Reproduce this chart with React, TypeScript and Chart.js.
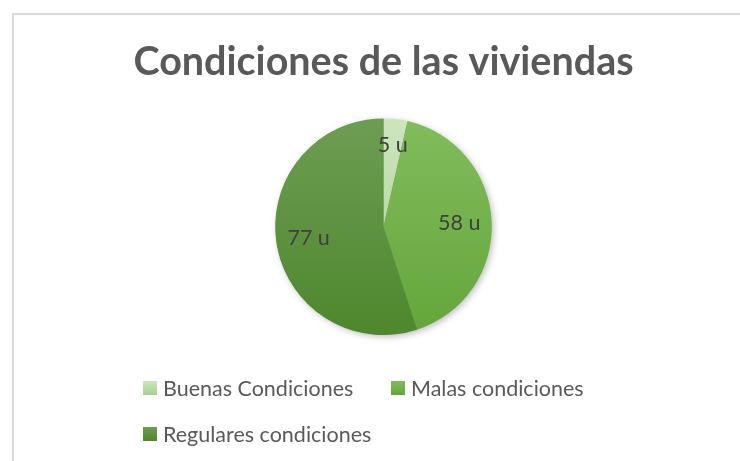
import React, { useEffect, useRef } from "react";
import { Chart, registerables } from "chart.js";
Chart.register(...registerables);

const TITLE = "Condiciones de las viviendas";
const categories = ["Buenas Condiciones", "Malas condiciones", "Regulares condiciones"];
const values = [5, 58, 77];
const unitSuffix = " u";

const topColors = ["#cde5bf", "#82bc5c", "#6d9d53"];
const bottomColors = ["#a8cf8e", "#64a63b", "#4e872d"];

const shadowPlugin = {
  id: "pieShadow",
  beforeDatasetsDraw(chart: any) {
    const arc = chart.getDatasetMeta(0).data[0];
    if (!arc) return;
    const { x, y, outerRadius } = arc.getProps(["x", "y", "outerRadius"], true);
    const ctx = chart.ctx;
    ctx.save();
    ctx.shadowColor = "rgba(0,0,0,0.28)";
    ctx.shadowBlur = 7;
    ctx.shadowOffsetX = 2;
    ctx.shadowOffsetY = 2;
    ctx.beginPath();
    ctx.arc(x, y, outerRadius - 0.5, 0, Math.PI * 2);
    ctx.fillStyle = "#6a9a50";
    ctx.fill();
    ctx.restore();
  },
};

const labelPlugin = {
  id: "sliceLabels",
  afterDatasetsDraw(chart: any) {
    const ctx = chart.ctx;
    const meta = chart.getDatasetMeta(0);
    const data = chart.data.datasets[0].data as number[];
    ctx.save();
    ctx.font = "21.5px Lato";
    ctx.fillStyle = "#404040";
    ctx.textAlign = "center";
    ctx.textBaseline = "middle";
    meta.data.forEach((arc: any, i: number) => {
      const { x, y, startAngle, endAngle, outerRadius } = arc.getProps(
        ["x", "y", "startAngle", "endAngle", "outerRadius"],
        true
      );
      const mid = (startAngle + endAngle) / 2;
      const r = outerRadius * (data[i] / values.reduce((a, b) => a + b, 0) < 0.1 ? 0.76 : 0.7);
      ctx.fillText(`${data[i]}${unitSuffix}`, x + Math.cos(mid) * r, y + Math.sin(mid) * r);
    });
    ctx.restore();
  },
};

const legendPlugin = {
  id: "excelLegend",
  afterDraw(chart: any) {
    const ctx = chart.ctx;
    const labels = chart.data.labels as string[];
    const slots = [
      [143, 381],
      [391, 381],
      [143, 427],
    ];
    ctx.save();
    ctx.font = "21.5px Lato";
    ctx.textBaseline = "middle";
    ctx.textAlign = "left";
    labels.forEach((lab, i) => {
      const [bx, by] = slots[i];
      const g = ctx.createLinearGradient(0, by, 0, by + 14);
      g.addColorStop(0, topColors[i]);
      g.addColorStop(1, bottomColors[i]);
      ctx.fillStyle = g;
      ctx.fillRect(bx, by, 14, 14);
      ctx.fillStyle = "#595959";
      ctx.fillText(lab, bx + 20, by + 8);
    });
    ctx.restore();
  },
};

export default function App() {
  const ref = useRef<HTMLCanvasElement>(null);
  useEffect(() => {
    if (!ref.current) return;
    const chart = new Chart(ref.current, {
      type: "pie",
      data: {
        labels: categories,
        datasets: [
          {
            data: values,
            borderWidth: 0,
            backgroundColor: (c: any) => {
              const i = c.dataIndex;
              const area = c.chart.chartArea;
              if (!area) return bottomColors[i];
              const g = c.chart.ctx.createLinearGradient(0, area.top, 0, area.bottom);
              g.addColorStop(0, topColors[i]);
              g.addColorStop(1, bottomColors[i]);
              return g;
            },
          },
        ],
      },
      options: {
        responsive: false,
        animation: false,
        devicePixelRatio: 1,
        layout: { padding: { left: 27, right: 0, top: 0, bottom: 126 } },
        plugins: {
          legend: { display: false },
          tooltip: { enabled: false },
          title: {
            display: true,
            text: TITLE,
            color: "#595959",
            font: { family: "Lato", size: 39.5, weight: "bold" },
            padding: { top: 39, bottom: 32 },
          },
        },
      },
      plugins: [shadowPlugin, labelPlugin, legendPlugin],
    } as any);
    return () => chart.destroy();
  }, []);

  return (
    <div
      style={{
        position: "fixed",
        left: 0,
        top: 0,
        width: 740,
        height: 461,
        overflow: "hidden",
        background: "#fff",
      }}
    >
      <div
        style={{
          position: "absolute",
          left: 12,
          top: 13,
          width: 800,
          height: 500,
          borderLeft: "2px solid #d9d9d9",
          borderTop: "2px solid #d9d9d9",
        }}
      />
      <canvas
        ref={ref}
        width={740}
        height={461}
        style={{ position: "absolute", left: 0, top: 0, width: 740, height: 461 }}
      />
    </div>
  );
}
